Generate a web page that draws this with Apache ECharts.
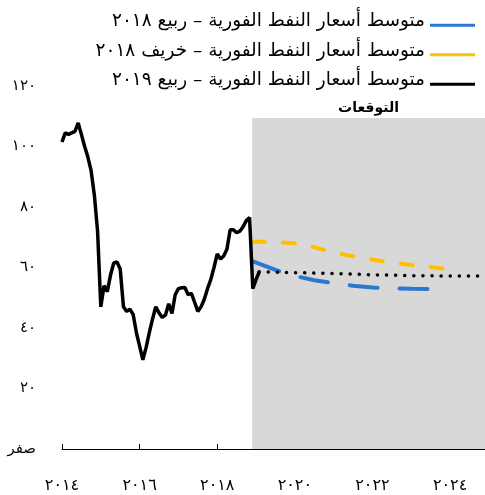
<!DOCTYPE html>
<html>
<head>
<meta charset="utf-8">
<script src="https://cdn.jsdelivr.net/npm/echarts@6/dist/echarts.min.js"></script>
<style>
  html, body { margin: 0; padding: 0; background: #fff; }
  #chart { width: 485px; height: 495px; }
</style>
</head>
<body>
<div id="chart"></div>
<script>
// monthly spot average, Jan 2014 onward
const histStart = 2014;
const histValues = [
    101.5, 104.5, 104.0, 104.5, 105.0, 107.8, 104.0, 100.0, 96.5, 92.0, 84.0, 72.0,
    47.0, 54.0, 52.0, 57.5, 61.5, 61.8, 59.5, 47.0, 45.5, 46.2, 44.5, 38.5,
    34.0, 29.5, 33.5, 38.5, 43.0, 47.0, 45.0, 43.5, 44.3, 48.0, 44.8, 51.0,
    53.0, 53.3, 53.4, 51.0, 51.5, 48.5, 45.5, 47.0, 49.5, 53.0, 56.0, 60.0,
    64.5, 62.8, 63.8, 66.0, 72.5, 72.5, 71.5, 72.0, 73.5, 75.5, 76.5, 53.0,
    56.0, 58.6
];
// forecasts: [year, value]
const spring2018 = [[2018.92, 62.0], [2019.5, 59.2], [2020, 57.2], [2020.5, 55.8], [2021, 54.8],
    [2021.5, 54.0], [2022, 53.4], [2022.5, 53.1], [2023, 53.0], [2023.6, 52.9]];
const autumn2018 = [[2018.92, 68.5], [2019.4, 68.5], [2020.2, 67.8], [2021, 64.9], [2021.8, 63.0],
    [2022.6, 61.4], [2023.4, 60.3], [2024, 59.4]];
const spring2019 = [[2019.08, 58.6], [2020, 58.3], [2021, 58.0], [2022, 57.6], [2023, 57.3],
    [2024, 57.2], [2024.8, 57.2]];
const forecastStart = 2018.9;
const forecastTop = 109.4;

const names = [
    'متوسط أسعار النفط الفورية – ربيع ٢٠١٨',
    'متوسط أسعار النفط الفورية – خريف ٢٠١٨',
    'متوسط أسعار النفط الفورية – ربيع ٢٠١٩'
];
const colors = ['#2A78CF', '#FFC000', '#000000'];

const arDigits = '٠١٢٣٤٥٦٧٨٩';
const toArabic = function (n) {
    return String(n).replace(/[0-9]/g, function (d) { return arDigits[+d]; });
};

const histData = histValues.map(function (v, i) {
    return [histStart + i / 12, v];
});
const font = 'DejaVu Sans, sans-serif';
// legend mark: a short bar sitting at the bottom of the item box (like an underline)
const legendMark = 'path://M0,0L0.01,0L0.01,0.01Z M0,7.5L45,7.5L45,10.5L0,10.5Z';

const chart = echarts.init(document.getElementById('chart'));
chart.setOption({
    animation: false,
    color: colors,
    legend: {
        orient: 'vertical',
        right: 5,
        top: 7,
        align: 'right',
        itemGap: 10.5,
        itemWidth: 45,
        itemHeight: 10.5,
        icon: legendMark,
        data: names,
        textStyle: {
            fontFamily: font, fontSize: 18.5, color: '#000', lineHeight: 18.5
        }
    },
    grid: { left: 62, right: 0, top: 86, bottom: 46 },
    xAxis: {
        type: 'value',
        min: 2014,
        max: 2024.9,
        interval: 2,
        axisLine: { lineStyle: { color: '#000', width: 1 } },
        axisTick: { inside: true, length: 5, lineStyle: { color: '#000' } },
        splitLine: { show: false },
        axisLabel: {
            showMaxLabel: false,
            margin: 29,
            color: '#000',
            fontFamily: font,
            fontSize: 16,
            formatter: function (v) { return toArabic(v); }
        }
    },
    yAxis: {
        type: 'value',
        min: 0,
        max: 120,
        interval: 20,
        axisLine: { show: false },
        axisTick: { show: false },
        splitLine: { show: false },
        axisLabel: {
            margin: 26,
            color: '#000',
            fontFamily: font,
            fontSize: 15,
            formatter: function (v) { return v === 0 ? 'صفر' : toArabic(v); }
        }
    },
    series: [
        {
            name: names[0],
            type: 'line',
            showSymbol: false,
            z: 3,
            data: spring2018,
            lineStyle: { color: colors[0], width: 4, type: [28, 22], cap: 'round' },
            markArea: {
                silent: true,
                itemStyle: { color: '#D9D8D8' },
                label: {
                    show: true,
                    position: 'top',
                    distance: 3,
                    color: '#000',
                    fontFamily: font,
                    fontSize: 14,
                    fontWeight: 'bold',
                    formatter: 'التوقعات'
                },
                data: [[{ xAxis: forecastStart, yAxis: 0 }, { xAxis: 2024.9, yAxis: forecastTop }]]
            }
        },
        {
            name: names[1],
            type: 'line',
            showSymbol: false,
            z: 3,
            data: autumn2018,
            lineStyle: { color: colors[1], width: 4, type: [12, 18], cap: 'round' }
        },
        {
            name: names[2],
            type: 'line',
            showSymbol: false,
            z: 4,
            data: spring2019,
            lineStyle: { color: colors[2], width: 3.5, type: [0.1, 9], cap: 'round' }
        },
        {
            name: names[2],
            type: 'line',
            showSymbol: false,
            z: 5,
            data: histData,
            lineStyle: { color: colors[2], width: 3.5 }
        }
    ]
});
</script>
</body>
</html>
